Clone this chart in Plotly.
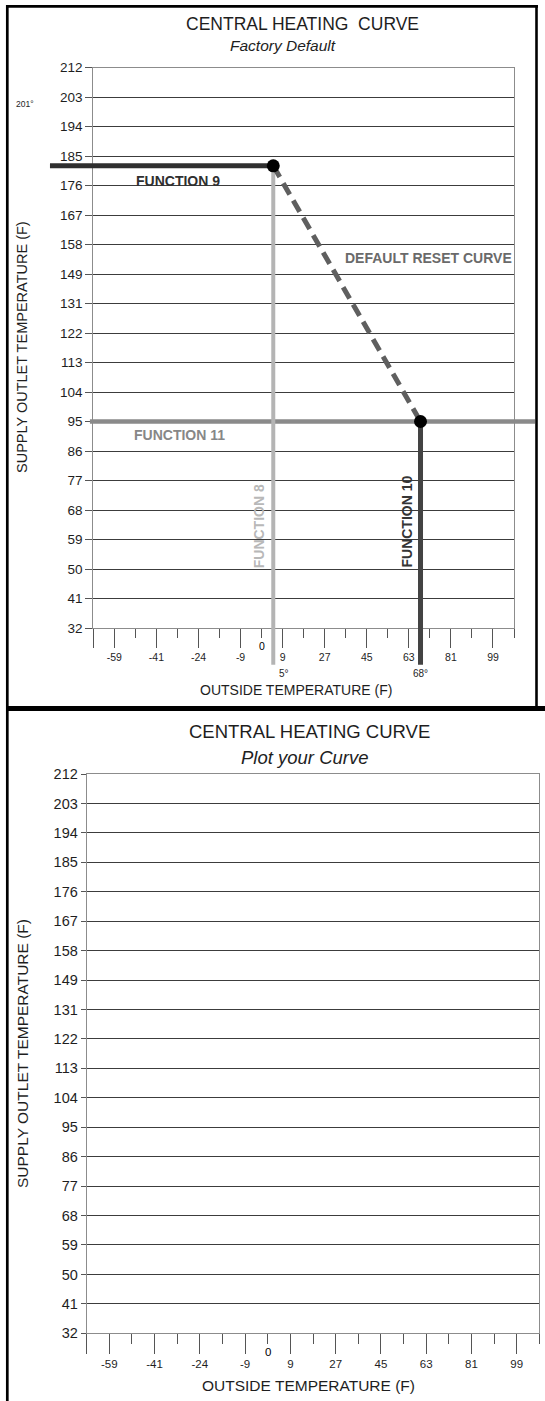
import numpy as np
import plotly.graph_objects as go

# ---------------------------------------------------------------------------
# Printed temperature scales (deg F)
# ---------------------------------------------------------------------------
SUPPLY_TICKS = [32, 41, 50, 59, 68, 77, 86, 95, 104, 113, 122, 131,
                149, 158, 167, 176, 185, 194, 203, 212]
OUTSIDE_TICKS = [-59, -41, -24, -9, 9, 27, 45, 63, 81, 99]
OUTSIDE_ZERO = 0

# ---------------------------------------------------------------------------
# Factory default heating curve (deg F)
# ---------------------------------------------------------------------------
F8_OUTSIDE_START = 5      # FUNCTION 8
F9_SUPPLY_MAX = 182       # FUNCTION 9
F10_OUTSIDE_END = 68      # FUNCTION 10
F11_SUPPLY_MIN = 95       # FUNCTION 11
SUPPLY_NOTE = 201         # small note printed beside the supply scale

CURVE_OUTSIDE = [F8_OUTSIDE_START, F10_OUTSIDE_END]
CURVE_SUPPLY = [F9_SUPPLY_MAX, F11_SUPPLY_MIN]

# ---------------------------------------------------------------------------
# Page geometry
# ---------------------------------------------------------------------------
W, H = 545, 1401
FONT = "Liberation Sans, Arial, Helvetica, sans-serif"
INK = "#1e1e1e"
GRID = "#3c3c3c"
SPINE = "#8c8c8c"


def px(x):
    return x / W


def py(y):
    return 1 - y / H


# plot frames in page pixels
TOP = dict(x0=93.3, x1=514.0, y0=67.5, y1=628.0)
BOT = dict(x0=86.7, x1=539.3, y0=774.0, y1=1333.3)


# ---------------------------------------------------------------------------
# Scales: the printed axes are evenly spaced divisions carrying the labels
# above, so values are placed by piecewise-linear interpolation between them.
# ---------------------------------------------------------------------------
def interp_ext(v, vals, pos):
    vals = np.asarray(vals, float)
    pos = np.asarray(pos, float)
    v = np.atleast_1d(np.asarray(v, float))
    out = np.interp(v, vals, pos)
    lo = (pos[1] - pos[0]) / (vals[1] - vals[0])
    hi = (pos[-1] - pos[-2]) / (vals[-1] - vals[-2])
    out = np.where(v < vals[0], pos[0] + (v - vals[0]) * lo, out)
    out = np.where(v > vals[-1], pos[-1] + (v - vals[-1]) * hi, out)
    return out


Y_POS = np.arange(len(SUPPLY_TICKS), dtype=float)
Y_RANGE = [0.0, float(Y_POS[-1])]

X_MAJOR_POS = 1.0 + 2.0 * np.arange(len(OUTSIDE_TICKS))
X_ZERO_POS = float((X_MAJOR_POS[3] + X_MAJOR_POS[4]) / 2)
X_RANGE = [0.0, float(X_MAJOR_POS[-1] + 1)]
X_MINOR_POS = np.arange(2.0, X_RANGE[1] + 0.5, 2.0)

X_TAB_VALS = OUTSIDE_TICKS[:4] + [OUTSIDE_ZERO] + OUTSIDE_TICKS[4:]
X_TAB_POS = list(X_MAJOR_POS[:4]) + [X_ZERO_POS] + list(X_MAJOR_POS[4:])


def ys(v):
    return interp_ext(v, SUPPLY_TICKS, Y_POS)


def xs(v):
    return interp_ext(v, X_TAB_VALS, X_TAB_POS)


def overlay_range(rng, dom, big):
    span = (rng[1] - rng[0]) / (dom[1] - dom[0])
    return [rng[0] - (dom[0] - big[0]) * span, rng[1] + (big[1] - dom[1]) * span]


top_xdom = [px(TOP["x0"]), px(TOP["x1"])]
top_ydom = [py(TOP["y1"]), py(TOP["y0"])]
bot_xdom = [px(BOT["x0"]), px(BOT["x1"])]
bot_ydom = [py(BOT["y1"]), py(BOT["y0"])]

# a free overlay over the whole upper half so the setting lines can run
# past the printed frame
ov_xdom = [0.0, 1.0]
ov_ydom = [0.5, 1.0]
ov_xrange = overlay_range(X_RANGE, top_xdom, ov_xdom)
ov_yrange = overlay_range(Y_RANGE, top_ydom, ov_ydom)

DROP = 1.25          # how far the vertical settings run below the axis (rows)
F9_REACH = 2.06      # how far FUNCTION 9 runs left of the frame (divisions)
F11_LEFT = 0.16
F11_RIGHT = 1.0

fig = go.Figure()

ov = dict(xaxis="x3", yaxis="y3", showlegend=False, hoverinfo="skip")

y8 = float(ys(F9_SUPPLY_MAX)[0])
y11 = float(ys(F11_SUPPLY_MIN)[0])
x8 = float(xs(F8_OUTSIDE_START)[0])
x10 = float(xs(F10_OUTSIDE_END)[0])

# FUNCTION 11: minimum supply
fig.add_trace(go.Scatter(x=[X_RANGE[0] - F11_LEFT, X_RANGE[1] + F11_RIGHT], y=[y11, y11],
                         mode="lines", line=dict(color="#8a8a8a", width=4.5), **ov))
# FUNCTION 8: outside temperature where reset begins
fig.add_trace(go.Scatter(x=[x8, x8], y=[y8, Y_RANGE[0] - DROP],
                         mode="lines", line=dict(color="#b4b4b4", width=4), **ov))
# FUNCTION 10: outside temperature where supply reaches minimum
fig.add_trace(go.Scatter(x=[x10, x10], y=[y11, Y_RANGE[0] - DROP],
                         mode="lines", line=dict(color="#434343", width=5), **ov))
# FUNCTION 9: maximum supply
fig.add_trace(go.Scatter(x=[X_RANGE[0] - F9_REACH, x8], y=[y8, y8],
                         mode="lines", line=dict(color="#2f2f2f", width=5), **ov))
# default reset curve
fig.add_trace(go.Scatter(x=xs(CURVE_OUTSIDE), y=ys(CURVE_SUPPLY),
                         mode="lines", line=dict(color="#5f5f5f", width=5, dash="13px,7px"), **ov))
fig.add_trace(go.Scatter(x=xs(CURVE_OUTSIDE), y=ys(CURVE_SUPPLY),
                         mode="markers", marker=dict(color="black", size=13), **ov))

# empty traces so both printed frames exist
fig.add_trace(go.Scatter(x=[None], y=[None], xaxis="x", yaxis="y", showlegend=False))
fig.add_trace(go.Scatter(x=[None], y=[None], xaxis="x2", yaxis="y2", showlegend=False))


def x_axis(dom, anchor, ticklen, minorlen, size):
    return dict(
        domain=dom, anchor=anchor, range=X_RANGE, fixedrange=True, automargin=False,
        tickmode="array", tickvals=[X_RANGE[0]] + list(X_MAJOR_POS),
        ticktext=[""] + [str(t) for t in OUTSIDE_TICKS],
        ticks="outside", ticklen=ticklen, tickwidth=1, tickcolor="#555",
        minor=dict(tickmode="array", tickvals=list(X_MINOR_POS), ticks="outside",
                   ticklen=minorlen, tickwidth=1, tickcolor="#555", showgrid=False),
        showgrid=False, zeroline=False,
        showline=True, linecolor=SPINE, linewidth=1, mirror=True,
        tickfont=dict(family=FONT, size=size, color=INK),
    )


def y_axis(dom, anchor, ticklen, size):
    return dict(
        domain=dom, anchor=anchor, range=Y_RANGE, fixedrange=True, automargin=False,
        tickmode="array", tickvals=list(Y_POS), ticktext=[str(t) for t in SUPPLY_TICKS],
        ticks="outside", ticklen=ticklen, tickwidth=1, tickcolor="#555",
        showgrid=True, gridcolor=GRID, gridwidth=1, zeroline=False,
        showline=True, linecolor=SPINE, linewidth=1, mirror=True,
        tickfont=dict(family=FONT, size=size, color=INK),
    )


annotations = []


def note(text, x, y, size, color=INK, xref="paper", yref="paper", **kw):
    d = dict(text=text, x=x, y=y, xref=xref, yref=yref, showarrow=False,
             xanchor="center", yanchor="middle",
             font=dict(family=FONT, size=size, color=color))
    d.update(kw)
    annotations.append(d)


# titles
note("CENTRAL HEATING&nbsp;&nbsp;CURVE", px(302), py(24), 17.5)
note("<i>Factory Default</i>", px(283), py(45), 15.5)
note("CENTRAL HEATING CURVE", px(309), py(732), 18.5)
note("<i>Plot your Curve</i>", px(305), py(757), 18.5)

# axis titles
note("OUTSIDE TEMPERATURE (F)", px(296), py(690), 14)
note("OUTSIDE TEMPERATURE (F)", px(308), py(1385), 15.5)
note("SUPPLY OUTLET TEMPERATURE (F)", px(22), py(347), 14.5, textangle=-90)
note("SUPPLY OUTLET TEMPERATURE (F)", px(22), py(1054), 15.5, textangle=-90)

# "0" sits on the short division between -9 and 9
note(str(OUTSIDE_ZERO), X_ZERO_POS, py(646), 10.5, color="black", xref="x")
note(str(OUTSIDE_ZERO), X_ZERO_POS, py(1351.5), 11.5, color="black", xref="x2")

# supply note
note(f"{SUPPLY_NOTE}°", px(25), float(ys(SUPPLY_NOTE)[0]), 8.5, yref="y")

# setting labels
BOLD = 14
note("<b>FUNCTION 9</b>", px(178), y8, BOLD, color="#2f2f2f", yref="y3", yshift=-15)
note("<b>DEFAULT RESET CURVE</b>", px(428), py(258), BOLD, color="#6a6a6a")
note("<b>FUNCTION 11</b>", px(179), y11, BOLD, color="#878787", yref="y3", yshift=-13)
note("<b>FUNCTION 8</b>", x8, py(526), BOLD, color="#b8b8b8", xref="x3",
     xshift=-14, textangle=-90)
note("<b>FUNCTION 10</b>", x10, py(522), BOLD, color="#353535", xref="x3",
     xshift=-14, textangle=-90)
note(f"{F8_OUTSIDE_START}°", x8, py(673), 10, xref="x3", xshift=11)
note(f"{F10_OUTSIDE_END}°", x10, py(673), 10, xref="x3")

# page frame
shapes = [
    dict(type="line", xref="paper", yref="paper", x0=px(7.3), x1=px(7.3), y0=py(5), y1=py(1401),
         line=dict(color="black", width=2.7)),
    dict(type="line", xref="paper", yref="paper", x0=px(6), x1=px(538), y0=py(6.4), y1=py(6.4),
         line=dict(color="black", width=2.6)),
    dict(type="line", xref="paper", yref="paper", x0=px(536.5), x1=px(536.5), y0=py(5), y1=py(706),
         line=dict(color="black", width=2.6)),
    dict(type="line", xref="paper", yref="paper", x0=px(6), x1=px(545), y0=py(708.5), y1=py(708.5),
         line=dict(color="black", width=5)),
]

fig.update_layout(
    template="none",
    width=W, height=H, margin=dict(l=0, r=0, t=0, b=0, pad=0), autosize=False,
    paper_bgcolor="white", plot_bgcolor="rgba(0,0,0,0)", showlegend=False,
    xaxis=x_axis(top_xdom, "y", 19, 9, 10.5),
    yaxis=y_axis(top_ydom, "x", 7, 13.5),
    xaxis2=x_axis(bot_xdom, "y2", 20, 10, 11.5),
    yaxis2=y_axis(bot_ydom, "x2", 5, 14.5),
    xaxis3=dict(domain=ov_xdom, anchor="y3", range=ov_xrange, visible=False,
                fixedrange=True, automargin=False),
    yaxis3=dict(domain=ov_ydom, anchor="x3", range=ov_yrange, visible=False,
                fixedrange=True, automargin=False),
    annotations=annotations, shapes=shapes,
)

fig.write_html("out.html")
